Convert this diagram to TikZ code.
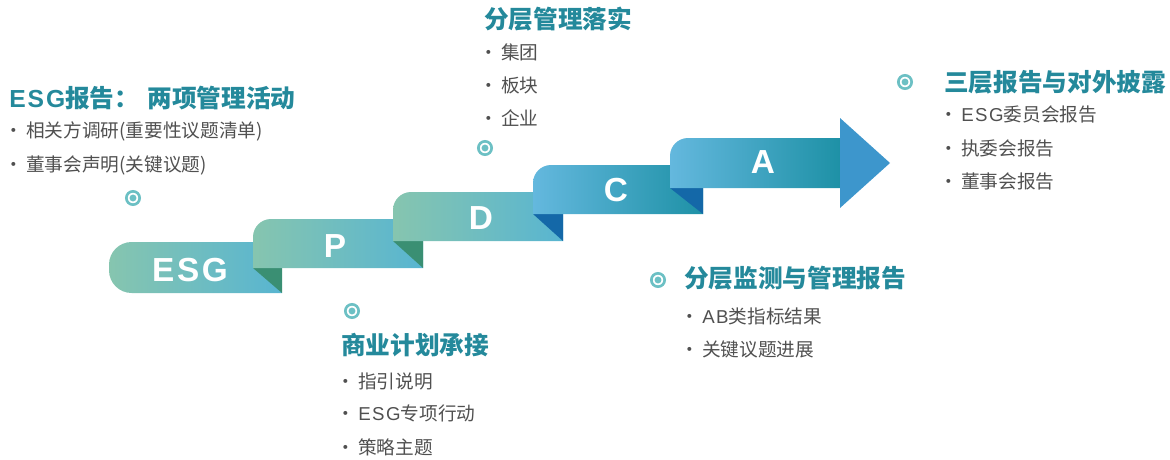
\documentclass[tikz,border=0pt]{standalone}
\usepackage{fontspec}
\setmainfont{Noto Sans CJK SC}
\newfontfamily\latinfont[LetterSpace=8]{Liberation Sans}
\usepackage{tikz}
\usetikzlibrary{calc}
\definecolor{titleteal}{RGB}{36,137,155}
\definecolor{itemgray}{RGB}{80,80,80}
\definecolor{ribgreen}{RGB}{134,197,175}
\definecolor{ribblue}{RGB}{88,181,209}
\definecolor{ribsky}{RGB}{100,184,222}
\definecolor{ribteal}{RGB}{30,145,166}
\definecolor{foldgreen}{RGB}{58,143,115}
\definecolor{foldblue}{RGB}{20,104,168}
\definecolor{arrowblue}{RGB}{61,150,204}
\definecolor{ringteal}{RGB}{108,192,196}
\newcommand{\itemdot}{\makebox[12pt][l]{\hspace{-4pt}·}}
\newcommand{\lat}[1]{{\latinfont #1}}

\begin{document}
\begin{tikzpicture}[x=0.75pt,y=-0.75pt,
    title/.style={anchor=west, inner sep=0pt, text=titleteal, font=\fontsize{18.5}{20}\selectfont\bfseries},
    item/.style={anchor=west, inner sep=0pt, text=itemgray, font=\fontsize{14}{16}\selectfont},
    stepletter/.style={inner sep=0pt, text=white, font=\fontsize{25}{27}\selectfont\latinfont\bfseries},
    ringdot/.style={circle, draw=ringteal, line width=2pt, minimum size=10pt, inner sep=0pt,
        path picture={\fill[ringteal] (path picture bounding box.center) circle (2.6pt);}}]
    \useasboundingbox (0,0) rectangle (1170,460);

    % ribbon steps
    \shade[left color=ribgreen, right color=ribblue] (282,293) -- (282,242) [rounded corners=17pt] -- (109,242) -- (109,293) [sharp corners] -- cycle;
    \fill[foldgreen] (253,268) -- (282,268) -- (282,293) -- cycle;
    \shade[left color=ribgreen, right color=ribblue] (423,268) -- (423,219) [rounded corners=13.5pt] -- (253,219) [sharp corners] -- (253,268) -- cycle;
    \fill[foldgreen] (393,241) -- (423,241) -- (423,268) -- cycle;
    \shade[left color=ribgreen, right color=ribblue] (563,241) -- (563,192) [rounded corners=13.5pt] -- (393,192) [sharp corners] -- (393,241) -- cycle;
    \fill[foldblue] (533,214) -- (563,214) -- (563,241) -- cycle;
    \shade[left color=ribsky, right color=ribteal] (703,214) -- (703,165) [rounded corners=13.5pt] -- (533,165) [sharp corners] -- (533,214) -- cycle;
    \fill[foldblue] (670,188) -- (703,188) -- (703,214) -- cycle;
    \shade[left color=ribsky, right color=ribteal] (840,188) -- (840,138) [rounded corners=13.5pt] -- (670,138) [sharp corners] -- (670,188) -- cycle;
    \fill[arrowblue] (840,118) -- (890,163) -- (840,208) -- cycle;

    \node[stepletter] (esg) at (190,270) {ESG};
    \node[stepletter] (p) at (335,246) {P};
    \node[stepletter] (d) at (481,218) {D};
    \node[stepletter] (c) at (616,190) {C};
    \node[stepletter] (a) at (763,162) {A};

    % markers
    \node[ringdot] (ringesg) at (133,198) {};
    \node[ringdot] (ringd) at (485,148) {};
    \node[ringdot] (ringp) at (352,311) {};
    \node[ringdot] (ringc) at (658,280) {};
    \node[ringdot] (ringa) at (905,82) {};

    % ESG
    \node[title] (esgtitle) at (9,98) {\lat{ESG}报告：\hspace{2pt} 两项管理活动};
    \node[item] (esgone) at (10,131) {\itemdot 相关方调研(重要性议题清单)};
    \node[item] (esgtwo) at (10,165) {\itemdot 董事会声明(关键议题)};

    % P
    \node[title] (ptitle) at (341,345) {商业计划承接};
    \node[item] (pone) at (342,381) {\itemdot 指引说明};
    \node[item] (ptwo) at (342,413) {\itemdot \lat{ESG}专项行动};
    \node[item] (pthree) at (342,447) {\itemdot 策略主题};

    % D
    \node[title] (dtitle) at (484,19) {分层管理落实};
    \node[item] (done) at (485,52) {\itemdot 集团};
    \node[item] (dtwo) at (485,85) {\itemdot 板块};
    \node[item] (dthree) at (485,118) {\itemdot 企业};

    % C
    \node[title] (ctitle) at (684,278) {分层监测与管理报告};
    \node[item] (cone) at (686,316) {\itemdot \lat{AB}类指标结果};
    \node[item] (ctwo) at (686,349) {\itemdot 关键议题进展};

    % A
    \node[title] (atitle) at (944,82) {三层报告与对外披露};
    \node[item] (aone) at (945,114) {\itemdot \lat{ESG}委员会报告};
    \node[item] (atwo) at (945,148) {\itemdot 执委会报告};
    \node[item] (athree) at (945,181) {\itemdot 董事会报告};
\end{tikzpicture}
\end{document}
